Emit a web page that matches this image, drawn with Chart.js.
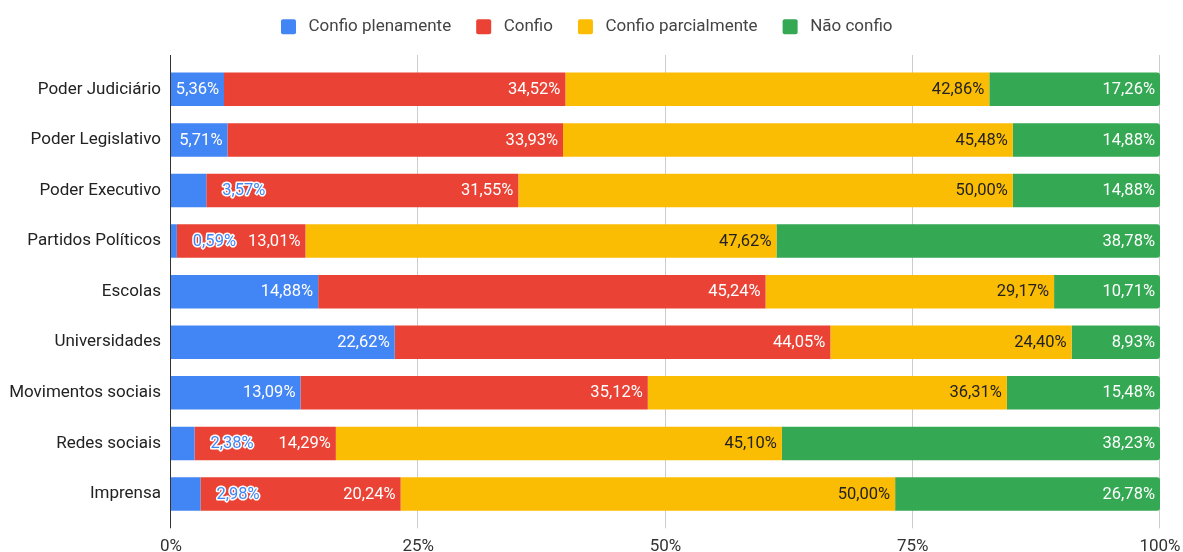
<!DOCTYPE html>
<html>
<head>
<meta charset="utf-8">
<script src="https://cdn.jsdelivr.net/npm/chart.js@4.4.1/dist/chart.umd.min.js"></script>
<style>
  html, body { margin: 0; padding: 0; background: #fff; }
  #wrap { width: 1183px; height: 552px; position: relative; }
</style>
</head>
<body>
<div id="wrap"><canvas id="c"></canvas></div>
<script>
// ---- data ----
const categories = ["Poder Judiciário", "Poder Legislativo", "Poder Executivo", "Partidos Políticos", "Escolas", "Universidades", "Movimentos sociais", "Redes sociais", "Imprensa"];
const seriesNames = ["Confio plenamente", "Confio", "Confio parcialmente", "Não confio"];
const confioPlenamente = [5.36, 5.71, 3.57, 0.59, 14.88, 22.62, 13.09, 2.38, 2.98];
const confio = [34.52, 33.93, 31.55, 13.01, 45.24, 44.05, 35.12, 14.29, 20.24];
const confioParcialmente = [42.86, 45.48, 50.00, 47.62, 29.17, 24.40, 36.31, 45.10, 50.00];
const naoConfio = [17.26, 14.88, 14.88, 38.78, 10.71, 8.93, 15.48, 38.23, 26.78];
const xTicks = [0, 25, 50, 75, 100];

const colors = ["#4285F4", "#EA4335", "#FBBC04", "#34A853"];
const labelColors = ["#ffffff", "#ffffff", "#222222", "#ffffff"];
const FONT = "Roboto";

function fmt(v) { return v.toFixed(2).replace('.', ',') + '%'; }

// custom legend
const legendPlugin = {
  id: 'customLegend',
  afterDraw(chart) {
    const ctx = chart.ctx;
    ctx.save();
    ctx.font = `17px ${FONT}`;
    const box = 15, gapText = 12.5, gapItem = 25;
    const widths = seriesNames.map(n => ctx.measureText(n).width);
    let total = widths.reduce((a, b) => a + b, 0) + seriesNames.length * (box + gapText) + (seriesNames.length - 1) * gapItem;
    let x = 586.75 - total / 2;
    const cy = 26.7;
    ctx.textBaseline = 'middle';
    ctx.textAlign = 'left';
    seriesNames.forEach((n, i) => {
      ctx.fillStyle = colors[i];
      ctx.beginPath();
      if (ctx.roundRect) ctx.roundRect(x, cy - box / 2, box, box, 2); else ctx.rect(x, cy - box / 2, box, box);
      ctx.fill();
      ctx.fillStyle = '#444';
      ctx.fillText(n, x + box + gapText, cy + 0.5);
      x += box + gapText + widths[i] + gapItem;
    });
    ctx.restore();
  }
};

// grid lines + axis line
const gridPlugin = {
  id: 'customGrid',
  beforeDatasetsDraw(chart) {
    const ctx = chart.ctx, xs = chart.scales.x, a = chart.chartArea;
    ctx.save();
    ctx.strokeStyle = '#cccccc';
    ctx.lineWidth = 1;
    xTicks.forEach(v => {
      if (v === 0) return;
      const px = Math.round(xs.getPixelForValue(v)) - 0.5;
      ctx.beginPath();
      ctx.moveTo(px, a.top - 9);
      ctx.lineTo(px, a.bottom + 9);
      ctx.stroke();
    });
    ctx.restore();
  },
  afterDatasetsDraw(chart) {
    const ctx = chart.ctx, xs = chart.scales.x, a = chart.chartArea;
    ctx.save();
    ctx.strokeStyle = '#333333';
    ctx.lineWidth = 1;
    const px = Math.round(xs.getPixelForValue(0)) - 0.5;
    ctx.beginPath();
    ctx.moveTo(px, a.top - 9);
    ctx.lineTo(px, a.bottom + 9);
    ctx.stroke();
    ctx.restore();
  }
};

// data labels
const labelPlugin = {
  id: 'dataLabels',
  afterDatasetsDraw(chart) {
    const ctx = chart.ctx;
    ctx.save();
    ctx.font = `16.5px ${FONT}`;
    ctx.textBaseline = 'middle';
    chart.data.datasets.forEach((ds, di) => {
      const meta = chart.getDatasetMeta(di);
      meta.data.forEach((bar, i) => {
        const v = ds.data[i];
        const txt = fmt(v);
        const w = ctx.measureText(txt).width;
        const start = Math.min(bar.base, bar.x), end = Math.max(bar.base, bar.x);
        const segW = end - start;
        const y = bar.y + 0.5;
        if (w + 6 <= segW) {
          ctx.textAlign = 'right';
          ctx.fillStyle = labelColors[di];
          ctx.fillText(txt, end - 5, y);
        } else {
          ctx.textAlign = 'left';
          ctx.lineJoin = 'round';
          ctx.lineWidth = 3;
          ctx.strokeStyle = '#ffffff';
          ctx.strokeText(txt, end + 16, y);
          ctx.fillStyle = colors[di];
          ctx.fillText(txt, end + 16, y);
        }
      });
    });
    ctx.restore();
  }
};

const seriesData = [confioPlenamente, confio, confioParcialmente, naoConfio];

new Chart(document.getElementById('c'), {
  type: 'bar',
  data: {
    labels: categories,
    datasets: seriesNames.map((n, i) => ({
      label: n,
      data: seriesData[i],
      backgroundColor: colors[i],
      borderWidth: 0,
      borderRadius: i === 3 ? { topRight: 3, bottomRight: 3, topLeft: 0, bottomLeft: 0 } : 0,
      borderSkipped: false,
      barPercentage: 0.662,
      categoryPercentage: 1.0
    }))
  },
  options: {
    indexAxis: 'y',
    responsive: true,
    maintainAspectRatio: false,
    animation: false,
    devicePixelRatio: 1,
    layout: { padding: { top: 64, left: 0, right: 23, bottom: 0 } },
    plugins: {
      legend: { display: false },
      tooltip: { enabled: false },
      title: { display: false }
    },
    scales: {
      x: {
        stacked: true,
        min: 0,
        max: 100,
        afterBuildTicks(scale) { scale.ticks = xTicks.map(v => ({ value: v })); },
        afterFit(scale) { scale.height = 32.7; scale.paddingLeft = 0; scale.paddingRight = 0; },
        grid: { display: false, drawTicks: false },
        border: { display: false },
        ticks: {
          callback: v => v + '%',
          font: { family: FONT, size: 17 },
          color: '#333',
          padding: 17,
          maxRotation: 0,
          autoSkip: false
        }
      },
      y: {
        stacked: true,
        afterFit(scale) { scale.width = 171; },
        grid: { display: false, drawTicks: false },
        border: { display: false },
        ticks: {
          font: { family: FONT, size: 17 },
          color: '#222',
          padding: 10,
          autoSkip: false
        }
      }
    }
  },
  plugins: [gridPlugin, labelPlugin, legendPlugin]
});
</script>
</body>
</html>
